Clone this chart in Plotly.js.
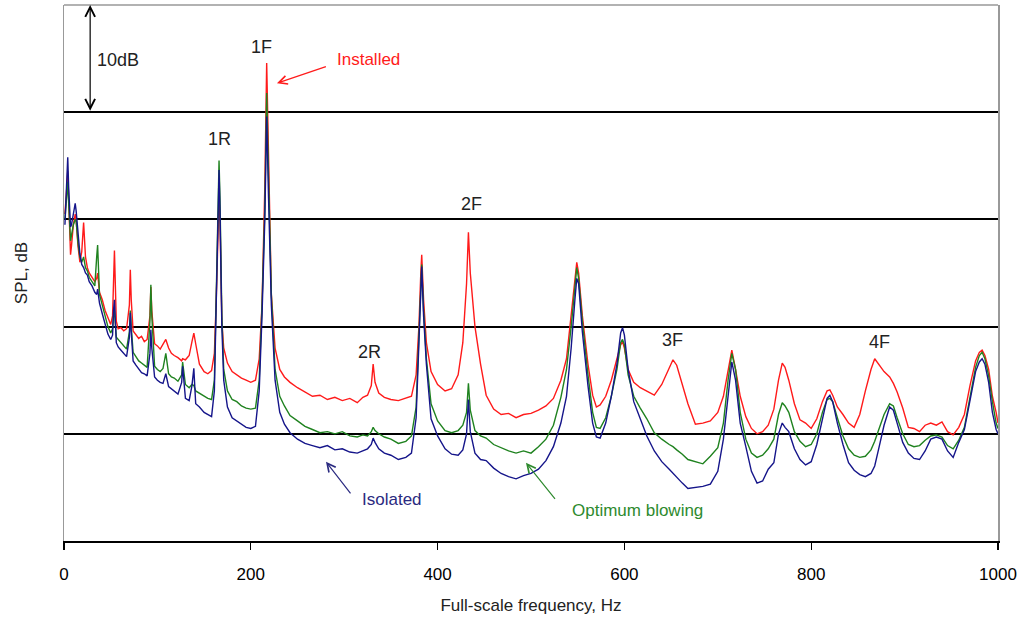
<!DOCTYPE html>
<html>
<head>
<meta charset="utf-8">
<script src="https://cdn.plot.ly/plotly-3.0.1.min.js"></script>
<style>html,body{margin:0;padding:0;background:#fff;}#chart{width:1025px;height:622px;}</style>
</head>
<body>
<div id="chart"></div>
<script>
// Full-scale frequency (Hz)
const freq = [
  1,2,3,4,5,6,7,8,10,12,13,15,17,19,21,23,25,27,30,33,35,36,38,41,44,47,50,52,53,54,56,58,
  61,64,67,70,71,72,74,77,80,83,86,89,92,93,94,97,100,103,106,109,112,115,118,122,126,127,130,134,137,139,141,145,150,154,158,
  161,163,165,166,167,169,171,175,180,185,190,195,200,205,209,212,215,217,219,222,226,231,236,242,
  250,258,266,274,282,290,298,306,314,320,325,329,331,333,337,343,350,358,366,372,
  377,380,382,383,385,388,393,400,408,415,422,427,431,433,435,440,446,452,460,468,476,484,492,500,508,516,524,532,538,
  543,547,549,551,555,561,566,570,574,580,586,592,596,598,600,604,610,617,624,632,640,648,652,656,662,668,676,684,692,700,
  706,711,715,719,724,730,736,742,748,754,760,765,769,772,776,782,788,794,800,806,812,817,820,823,828,834,840,846,852,858,
  864,868,872,878,884,888,892,898,904,910,916,922,928,934,940,946,952,958,964,970,976,980,983,986,990,994,998,1000
];
// SPL (dB, relative) - Installed
const installed = [
  30.5,31.5,33,34.5,32,28.5,26.7,27.5,29.5,30.5,30,27.5,26,27,29.7,26.5,25.5,25,24.6,24.2,24.5,25,23.2,22.5,21.5,20.8,20.2,21,24.5,27.1,20.5,19.8,
  19.9,19.6,19.8,22,25.3,22.5,19.6,19.2,18.9,19.1,18.6,18.8,21,23.7,21.5,18.4,18.2,17.9,18.3,18.8,18,17.5,17.3,17.1,16.8,17,16.9,17.3,18.6,19.4,18.4,16.5,15.8,15.6,15.9,
  17.5,22.5,29,32,30,20.5,18,16.6,15.8,15.5,15.2,15,14.8,15,17,22,33,44.6,35,23,18,16,15.3,14.8,
  14.3,13.9,13.5,13.6,13.2,13.4,13.1,13.3,12.9,13.4,13.6,14.5,16.5,14.8,13.8,13.4,13.2,13.1,13.3,13.5,
  15.5,20,25,26.7,22.5,18.5,15.8,14.6,14,14.2,15.5,18.5,24,28.8,25,20,16.5,13.6,12.3,11.8,11.9,11.5,11.8,11.9,12.2,12.6,13.3,15,17,
  21,24.5,26,25,21,16.5,13.6,12.5,12.7,13.5,15,17,18.3,18.6,18,16,14.8,14.3,14,13.6,14.6,16.2,16.9,16.4,14.6,12.8,10.9,11,11.2,12,
  13.5,16,17.8,16,13.5,11.6,10.5,10,10.2,10.8,12.3,15,16.6,16.2,15,12.8,11.3,11,10.5,11.4,13,14,14.1,13.6,12.5,11.8,11,10.6,11.8,14,
  16,17,16.5,15.8,15.3,14.7,13.9,12.4,10.6,10.5,10.2,10.8,11,10.8,11.1,10.2,9.9,10.6,11.8,14.5,16.8,17.6,17.8,17.3,16,13.5,12,11
];
// SPL (dB, relative) - Optimum blowing
const optimum = [
  30,31,32.5,33.5,31.5,29,28,28.5,29.5,30,29.8,27.8,26.5,26,26.5,25.5,25.2,24.6,24.2,23.8,26.5,27.6,23,22,21,20,19.4,19.8,21,21.5,19,18.8,
  18.6,18.3,17.9,19.5,21.5,20,17.6,17.2,16.8,16.6,16.4,16.2,20.5,23.9,21,16.3,16,15.8,16.1,17.5,15.6,15.3,15.2,14.9,15.5,16.7,14.6,14.3,14.6,14.5,14,13.8,13.5,13.3,13.2,
  15,23,31,35.5,32,21,16,14,13.2,13,12.6,12.4,12.3,12.4,15,22,31,41.8,34,23,16,13.5,12.6,11.7,
  11.2,10.7,10.4,10.1,10.2,10,10.2,9.8,9.7,9.9,9.8,10.2,10.6,10.3,10,9.7,9.5,9.1,9.3,9.8,
  12.5,19,24,25.8,21.5,17,12.8,11.2,10.3,10.1,10.3,10.8,12,14.7,12.2,10.3,9.8,9.6,9,8.7,8.4,8.2,8.4,8.2,8.8,9.5,10.8,13.4,16,
  20,24,25.5,24.5,20.5,15.5,12,10.6,10.5,11.5,13.5,16,18.5,18.8,18.3,15.5,13.5,12.4,11.4,10.1,9.5,9,8.8,8.5,8.1,7.6,7.4,7.2,7.9,8.7,
  11,15,17.5,16,12,9.5,8.2,7.8,8,8.6,9.5,11.8,12.9,12.6,12,10.2,9.3,8.8,9,10,12,13.2,13.3,13,11.5,9.8,8.6,8,7.8,7.9,
  8.5,9.3,10.3,11.8,12.8,12.6,11.5,10,9,8.8,8.9,9.4,9.8,9.9,9.7,8.9,8.6,9.4,10.6,13.5,16.2,17.3,17.6,17,15.4,13,11,10.5
];
// SPL (dB, relative) - Isolated
const isolated = [
  29.5,31.5,34,35.8,33,30,29.3,29.5,30.5,31.5,30.8,28.5,26.8,25.8,25.5,25,24.8,24.2,23.8,23.2,23,23.5,22.2,21.2,20.2,19.3,18.8,19.2,21.5,22.5,18.5,18.1,
  17.8,17.5,17.2,19,21.3,19.5,16.8,16.4,16,15.7,15.6,15.4,17.5,19.7,18,15.3,15,14.8,14.7,15.6,14.4,14.2,14,13.7,14.8,16.3,13.3,13.1,14.5,16.1,12.8,12.5,12,11.8,11.6,
  14,22,30,34.6,31,20,15,12.5,11.5,11.2,10.9,10.6,10.5,10.7,14,21,30,39.6,32,22,15,12,10.9,10.1,
  9.5,9.1,8.9,8.7,8.9,8.5,8.6,8.3,8.2,8.4,8.6,9,9.6,9.2,8.6,8.2,8,7.6,7.8,8.2,
  11.5,18.5,24,25.6,21,16.5,11.4,9.8,8.6,8.1,8,8.5,10,13.2,10.2,8.2,7.6,7.5,6.8,6.3,6,5.8,6.1,6.3,6.7,7.5,8.8,11,13.5,
  18,22.5,24.5,24,19.5,14.5,11,9.7,9.6,11,13.5,16.5,19.4,19.9,19.2,16,13,11.4,9.8,8.4,7.4,6.7,6.3,5.9,5.4,4.9,5,5.1,5.3,6.5,
  9.5,13.5,16.7,15,11,8.8,6.5,5.4,5.6,6.7,7.3,10,11,10.6,10.2,8.6,7.6,7.1,7.4,9,11.5,13.3,13.6,13,11,9,7.3,6.6,6.2,6,
  6.3,7,8.5,10.8,12.5,12.2,11,9.2,8.2,7.7,7.6,8.4,9.5,9.7,9.5,8.4,7.8,9.2,10.4,13.2,15.8,16.7,17,16.5,14.8,12,10.4,10
];
const xTicks = [0, 200, 400, 600, 800, 1000];
const gridLevels = [10, 20, 30, 40];
const peakLabels = ['1F', '1R', '2F', '2R', '3F', '4F'];
const peakLabelFreq = [211, 167, 436, 327, 651, 873];
const peakLabelSpl = [46.1, 37.5, 31.4, 17.6, 18.75, 18.6];

const FONT = 'Liberation Sans, Arial, sans-serif';
const RED = '#ff1a1a', GREEN = '#1f821f', BLUE = '#15158a';

const mk = (y, color, name) => ({
  x: freq, y: y, type: 'scatter', mode: 'lines', name: name,
  line: {color: color, width: 1.4}, hoverinfo: 'x+y+name'
});
const data = [mk(installed, RED, 'Installed'), mk(optimum, GREEN, 'Optimum blowing'), mk(isolated, BLUE, 'Isolated')];

const annotations = peakLabels.map((t, i) => ({
  x: peakLabelFreq[i], y: peakLabelSpl[i], xref: 'x', yref: 'y', text: t, showarrow: false,
  font: {family: FONT, size: 18, color: '#222'}
}));
// 10 dB scale marker
annotations.push({x: 28, y: 50, ax: 28, ay: 40, xref: 'x', yref: 'y', axref: 'x', ayref: 'y', text: '',
  showarrow: true, arrowside: 'end+start', arrowhead: 5, arrowsize: 1.6, arrowwidth: 1.2, arrowcolor: '#000', standoff: 0, startstandoff: 0});
annotations.push({x: 33, y: 44.9, xref: 'x', yref: 'y', text: '10dB', showarrow: false, xanchor: 'left',
  font: {family: FONT, size: 18, color: '#222'}});
// Installed
annotations.push({x: 228, y: 42.7, ax: 282, ay: 44.3, xref: 'x', yref: 'y', axref: 'x', ayref: 'y', text: '',
  showarrow: true, arrowhead: 5, arrowsize: 1.4, arrowwidth: 1.2, arrowcolor: RED, standoff: 0});
annotations.push({x: 326, y: 44.9, xref: 'x', yref: 'y', text: 'Installed', showarrow: false,
  font: {family: FONT, size: 17, color: RED}});
// Isolated
annotations.push({x: 280.5, y: 7.4, ax: 308, ay: 4.3, xref: 'x', yref: 'y', axref: 'x', ayref: 'y', text: '',
  showarrow: true, arrowhead: 5, arrowsize: 1.4, arrowwidth: 1.2, arrowcolor: '#2a2a80', standoff: 0});
annotations.push({x: 351, y: 3.9, xref: 'x', yref: 'y', text: 'Isolated', showarrow: false,
  font: {family: FONT, size: 17, color: '#2a2a80'}});
// Optimum blowing
annotations.push({x: 494.6, y: 7.3, ax: 527, ay: 3.8, xref: 'x', yref: 'y', axref: 'x', ayref: 'y', text: '',
  showarrow: true, arrowhead: 5, arrowsize: 1.4, arrowwidth: 1.2, arrowcolor: '#2e8a2e', standoff: 0});
annotations.push({x: 613.5, y: 2.8, xref: 'x', yref: 'y', text: 'Optimum blowing', showarrow: false,
  font: {family: FONT, size: 17, color: '#2e8a2e'}});

const layout = {
  width: 1025, height: 622,
  margin: {l: 64, r: 27, t: 5, b: 81},
  paper_bgcolor: '#fff', plot_bgcolor: '#fff',
  showlegend: false,
  font: {family: FONT, color: '#000'},
  xaxis: {
    range: [0, 1000], tickvals: xTicks, ticktext: xTicks.map(String),
    ticks: 'outside', ticklen: 7, tickwidth: 1.3, tickcolor: '#000', ticklabelstandoff: 10,
    showline: true, linecolor: '#000', linewidth: 1.5,
    showgrid: false, zeroline: false,
    tickfont: {family: FONT, size: 17, color: '#000'},
    title: {text: 'Full-scale frequency, Hz', font: {family: FONT, size: 17, color: '#222'}, standoff: 16}
  },
  yaxis: {
    range: [0, 50], tickvals: gridLevels, showticklabels: false, ticks: '',
    showgrid: true, gridcolor: '#000', gridwidth: 2, zeroline: false,
    showline: true, linecolor: '#999', linewidth: 1.5, mirror: true,
    title: {text: 'SPL, dB', font: {family: FONT, size: 17, color: '#222'}, standoff: 30}
  },
  shapes: [
    {type: 'line', xref: 'paper', yref: 'paper', x0: 0, x1: 1, y0: 1, y1: 1, line: {color: '#999', width: 1.5}}
  ],
  annotations: annotations
};

Plotly.newPlot('chart', data, layout, {staticPlot: true, displayModeBar: false});
</script>
</body>
</html>
